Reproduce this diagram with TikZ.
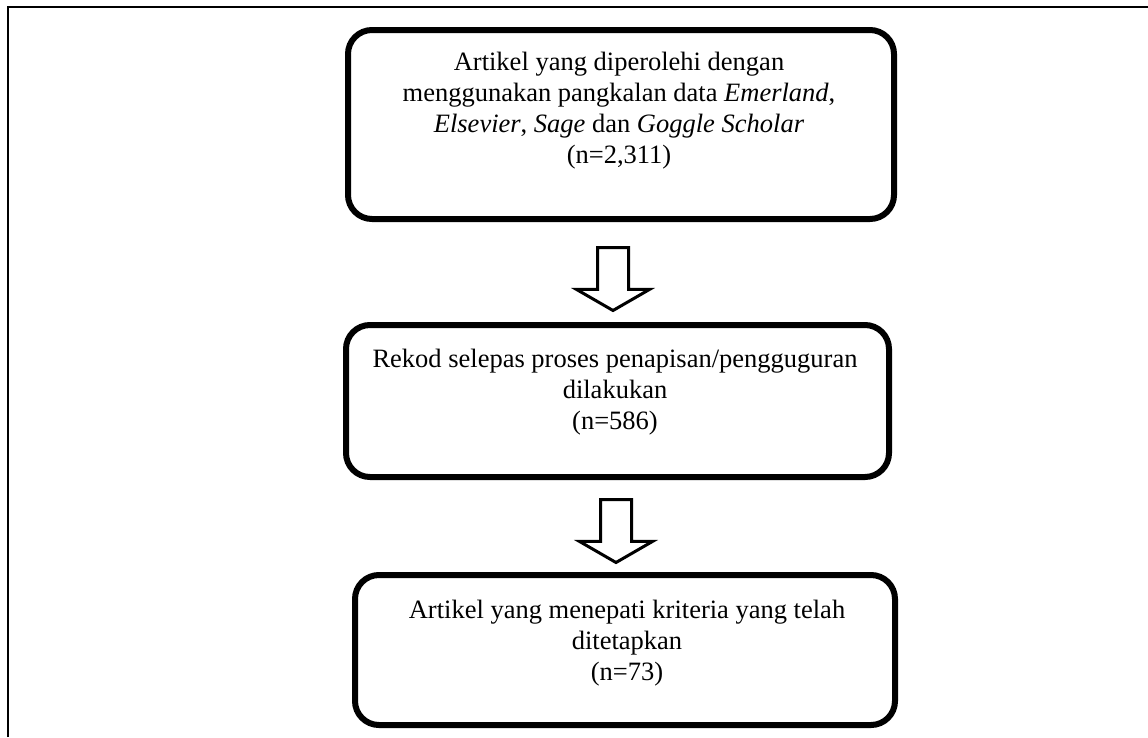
\documentclass[tikz,border=0pt]{standalone}
\usepackage{fontspec}
\setmainfont{Liberation Serif}
\usetikzlibrary{shapes.arrows}

\tikzset{
  stage/.style={draw, rounded corners=24pt, line width=6pt},
  stagetext/.style={align=center, inner sep=0pt, font=\fontsize{26.5}{31}\selectfont},
  flowarrow/.style={single arrow, draw, line width=3pt, rotate=-90, anchor=tail,
    inner xsep=0pt, inner ysep=14pt, minimum height=63pt,
    single arrow head extend=21pt, single arrow tip angle=120},
  frame/.style={line width=2.5pt}
}

\begin{document}
\begin{tikzpicture}[x=1pt, y=-1pt]
        \useasboundingbox (0,0) rectangle (1148,737);
        \draw[frame] (8,737) -- (8,7) -- (1148,7);

        % kotak
        \node[stage, minimum width=546pt, minimum height=189pt] (b1) at (621,124.5) {};
        \node[stage, minimum width=543pt, minimum height=152pt] (b2) at (617.5,401) {};
        \node[stage, minimum width=540pt, minimum height=150pt] (b3) at (625,650) {};

        \node[stagetext] (t1) at (619,111) {Artikel yang diperolehi dengan\\
          menggunakan pangkalan data \emph{Emerland},\\
          \emph{Elsevier}, \emph{Sage} dan \emph{Goggle Scholar}\\(n=2,311)};
        \node[stagetext] (t2) at (615,392) {Rekod selepas proses penapisan/pengguguran\\
          dilakukan\\(n=586)};
        \node[stagetext] (t3) at (627,643) {Artikel yang menepati kriteria yang telah\\
          ditetapkan\\(n=73)};

        % anak panah
        \node[flowarrow] (a1) at (613,246) {};
        \node[flowarrow] (a2) at (616,498) {};
    \end{tikzpicture}
\end{document}
